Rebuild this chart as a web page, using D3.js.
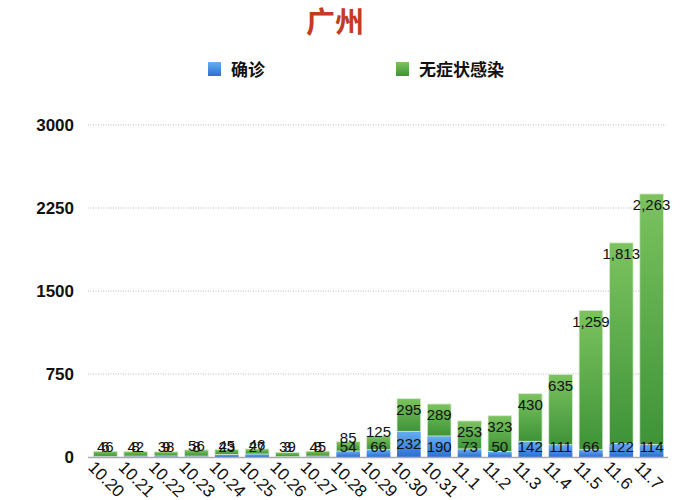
<!DOCTYPE html>
<html><head><meta charset="utf-8">
<script src="https://cdn.jsdelivr.net/npm/d3@7"></script>
<style>body{margin:0;background:#fff}svg{display:block}</style>
</head><body>
<script>
const dates = ["10.20","10.21","10.22","10.23","10.24","10.25","10.26","10.27","10.28","10.29","10.30","10.31","11.1","11.2","11.3","11.4","11.5","11.6","11.7"];
const confirmed = [6, 8, 9, 8, 23, 27, 3, 8, 54, 66, 232, 190, 73, 50, 142, 111, 66, 122, 114];
const asymptomatic = [46, 42, 38, 56, 45, 46, 39, 45, 85, 125, 295, 289, 253, 323, 430, 635, 1259, 1813, 2263];
const yTicks = [0, 750, 1500, 2250, 3000];
const seriesNames = ["确诊", "无症状感染"];

const W = 700, H = 500;
const svg = d3.select("body").append("svg").attr("width", W).attr("height", H);
const font = "'Liberation Sans', Arial, 'Noto Sans CJK SC', sans-serif";
const cjk = "'Noto Sans CJK SC', sans-serif";

const defs = svg.append("defs");
function grad(id, c1, c2) {
  const g = defs.append("linearGradient").attr("id", id).attr("x1", 0).attr("y1", 0).attr("x2", 0).attr("y2", 1);
  g.append("stop").attr("offset", "0%").attr("stop-color", c1);
  g.append("stop").attr("offset", "100%").attr("stop-color", c2);
}
grad("gGreen", "#7cc35f", "#3e9338");
grad("gBlue", "#66aef2", "#2e6fd1");

const x = d3.scaleBand().domain(dates).range([89, 668]).paddingInner(0.22).paddingOuter(0.15);
const y = d3.scaleLinear().domain([0, 3000]).range([457, 125]);

// title
svg.append("text").attr("x", 335).attr("y", 33).attr("text-anchor", "middle")
  .attr("font-family", cjk).attr("font-weight", "bold").attr("font-size", 29)
  .attr("fill", "#c23b22").text("广州");

// legend
const leg = [{name: seriesNames[0], fill: "url(#gBlue)", x: 208}, {name: seriesNames[1], fill: "url(#gGreen)", x: 396}];
leg.forEach(l => {
  svg.append("rect").attr("x", l.x).attr("y", 62).attr("width", 13).attr("height", 14).attr("fill", l.fill);
  svg.append("text").attr("x", l.x + 23).attr("y", 76).attr("font-family", cjk).attr("font-weight", "bold")
    .attr("font-size", 17).attr("fill", "#111").text(l.name);
});

// grid
const grid = svg.append("g");
yTicks.filter(t => t > 0).forEach(t => {
  grid.append("line").attr("x1", 88).attr("x2", 666).attr("y1", y(t)).attr("y2", y(t))
    .attr("stroke", "#bbb").attr("stroke-width", 1).attr("stroke-dasharray", "1,1.5");
});

// y axis labels
const yAxis = d3.axisLeft(y).tickValues(yTicks).tickSize(0).tickPadding(0).tickFormat(d3.format("d"));
const ya = svg.append("g").attr("transform", "translate(74,0)").call(yAxis);
ya.select(".domain").remove();
ya.selectAll("text").attr("font-family", font).attr("font-weight", "bold").attr("font-size", 17).attr("fill", "#111").attr("dy", "0.35em");

// bars
const data = dates.map((d, i) => ({d, c: confirmed[i], a: asymptomatic[i]}));
const bars = svg.append("g");
bars.selectAll("rect.c").data(data).join("rect").attr("class", "c")
  .attr("x", d => x(d.d)).attr("width", x.bandwidth())
  .attr("y", d => y(d.c)).attr("height", d => y(0) - y(d.c))
  .attr("fill", "url(#gBlue)");
bars.selectAll("rect.a").data(data).join("rect").attr("class", "a")
  .attr("x", d => x(d.d)).attr("width", x.bandwidth())
  .attr("y", d => y(d.c + d.a)).attr("height", d => y(d.c) - y(d.c + d.a))
  .attr("fill", "url(#gGreen)").attr("stroke", "#d8ecd0").attr("stroke-width", 0.8);

// baseline
svg.append("line").attr("x1", 88).attr("x2", 668).attr("y1", y(0) + 0.5).attr("y2", y(0) + 0.5)
  .attr("stroke", "#aaa").attr("stroke-width", 1.5);

// value labels
const fmt = d3.format(",");
const lab = svg.append("g").attr("font-family", font).attr("font-size", 15).attr("fill", "#111").attr("text-anchor", "middle");
data.forEach(d => {
  const cx = x(d.d) + x.bandwidth() / 2;
  const cTop = y(d.c);
  const by = Math.min((cTop + y(0)) / 2, 447);
  lab.append("text").attr("x", cx).attr("y", by).attr("dy", "0.35em").text(fmt(d.c));
  const aTop = y(d.c + d.a);
  const ay = (aTop + 11 <= 446) ? aTop + 11 : aTop - 4;
  lab.append("text").attr("x", cx).attr("y", Math.min(ay, 447)).attr("dy", "0.35em").text(fmt(d.a));
});

// x labels
const xl = svg.append("g").attr("font-family", font).attr("font-size", 17).attr("fill", "#111");
dates.forEach(d => {
  const px = x(d) + x.bandwidth() / 2 - 14;
  xl.append("text").attr("transform", `translate(${px},464) rotate(45)`).attr("dy", "0.35em").text(d);
});
</script>
</body></html>
